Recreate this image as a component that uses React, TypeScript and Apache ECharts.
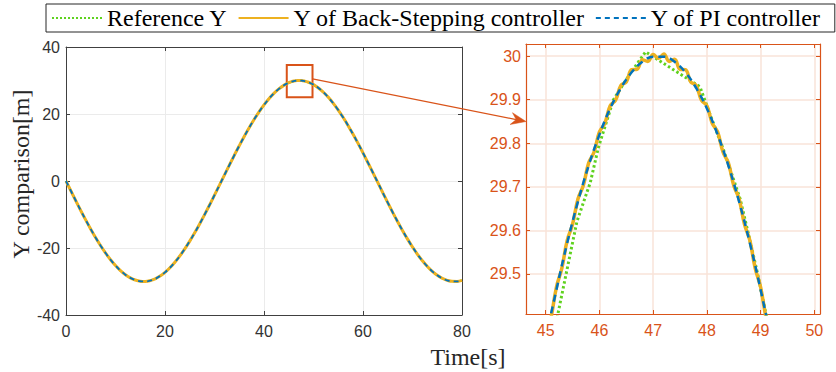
import React, { useEffect, useRef } from "react";
import * as echarts from "echarts";

// ---- Overview trajectory (whole run, 1 s samples) ----
const overviewTime = [
  0, 1, 2, 3, 4, 5, 6, 7, 8, 9, 10, 11, 12, 13, 14, 15, 16, 17, 18, 19, 20,
  21, 22, 23, 24, 25, 26, 27, 28, 29, 30, 31, 32, 33, 34, 35, 36, 37, 38, 39, 40,
  41, 42, 43, 44, 45, 46, 47, 48, 49, 50, 51, 52, 53, 54, 55, 56, 57, 58, 59, 60,
  61, 62, 63, 64, 65, 66, 67, 68, 69, 70, 71, 72, 73, 74, 75, 76, 77, 78, 79, 80,
];
const overviewY = [
  0, -2.99, -5.96, -8.87, -11.68, -14.38, -16.94, -19.33, -21.52, -23.5, -25.24,
  -26.74, -27.96, -28.91, -29.56, -29.92, -29.99, -29.75, -29.22, -28.39, -27.28,
  -25.9, -24.26, -22.37, -20.26, -17.95, -15.47, -12.82, -10.05, -7.18, -4.23,
  -1.25, 1.75, 4.73, 7.67, 10.52, 13.28, 15.9, 18.36, 20.63, 22.7,
  24.55, 26.15, 27.49, 28.55, 29.33, 29.81, 30.0, 29.88, 29.47, 28.77,
  27.77, 26.5, 24.97, 23.18, 21.17, 18.94, 16.52, 13.94, 11.22, 8.38,
  5.46, 2.49, -0.5, -3.5, -6.45, -9.35, -12.15, -14.82, -17.35, -19.71,
  -21.87, -23.81, -25.51, -26.96, -28.14, -29.04, -29.65, -29.96, -29.97, -29.68,
];

// ---- Detail around the peak (zoomed panel) ----
const refZoomTime = [45.18, 45.58, 45.83, 45.98, 46.26, 46.57, 46.86, 47.87, 48.06, 48.31, 48.62, 48.8, 48.96, 49.13];
const refZoomY = [29.38, 29.62, 29.71, 29.79, 29.9, 29.96, 30.01, 29.93, 29.866, 29.785, 29.672, 29.578, 29.492, 29.39];

const bsZoomTime = [
  45.0, 45.1, 45.2, 45.3, 45.4, 45.5, 45.6, 45.7, 45.8, 45.9, 46.0, 46.1, 46.2, 46.3, 46.4,
  46.5, 46.6, 46.7, 46.8, 46.9, 47.0, 47.1, 47.2, 47.3, 47.4, 47.5, 47.6, 47.7, 47.8, 47.9,
  48.0, 48.1, 48.2, 48.3, 48.4, 48.5, 48.6, 48.7, 48.8, 48.9, 49.0, 49.1, 49.2,
];
const bsZoomY = [
  29.351, 29.4, 29.47, 29.513, 29.577, 29.614, 29.672, 29.703, 29.755, 29.78, 29.826, 29.846,
  29.886, 29.899, 29.933, 29.941, 29.969, 29.97, 29.992, 29.988, 30.004, 29.995, 30.005,
  29.988, 29.993, 29.97, 29.969, 29.941, 29.933, 29.899, 29.886, 29.846, 29.826, 29.78,
  29.755, 29.703, 29.672, 29.614, 29.577, 29.513, 29.47, 29.4, 29.35,
];

const piZoomTime = [
  45.0, 45.2, 45.4, 45.6, 45.8, 46.0, 46.2, 46.4, 46.6, 46.8, 47.0, 47.2, 47.4, 47.6, 47.8,
  48.0, 48.2, 48.4, 48.6, 48.8, 49.0, 49.2,
];
const piZoomY = [
  29.345, 29.464, 29.571, 29.666, 29.749, 29.82, 29.88, 29.927, 29.963, 29.987, 29.999,
  29.999, 29.987, 29.963, 29.927, 29.88, 29.82, 29.749, 29.666, 29.571, 29.464, 29.344,
];

// zoom window drawn on the overview, and the zoomed panel's ticks
const zoomBoxTime = [44.6, 49.8];
const zoomBoxY = [25.0, 34.6];
const zoomXTicks = [45, 46, 47, 48, 49, 50];
const zoomYTicks = [29.5, 29.6, 29.7, 29.8, 29.9, 30.0];

const seriesNames = ["Reference Y", "Y of Back-Stepping controller", "Y of PI controller"];

function merge(zt: number[], zy: number[]): number[][] {
  const lo = zt[0];
  const hi = zt[zt.length - 1];
  const pts: number[][] = [];
  overviewTime.forEach((t, i) => {
    if (t < lo) pts.push([t, overviewY[i]]);
  });
  zt.forEach((t, i) => pts.push([t, zy[i]]));
  overviewTime.forEach((t, i) => {
    if (t > hi) pts.push([t, overviewY[i]]);
  });
  return pts;
}

const GREEN = "#5fd21e";
const YELLOW = "#EDB120";
const BLUE = "#0072BD";
const ORANGE = "#D95319";
const AX = "#404040";
const SANS = "Liberation Sans";
const SERIF = "Liberation Serif";
const CLEAR = "rgba(0,0,0,0)";

export default function App() {
  const ref = useRef<HTMLDivElement>(null);
  useEffect(() => {
    if (!ref.current) return;
    const chart = echarts.init(ref.current, undefined, { renderer: "svg" });
    const refData = merge(refZoomTime, refZoomY);
    const bsData = merge(bsZoomTime, bsZoomY);
    const piData = merge(piZoomTime, piZoomY);

    const leftX = { min: 0, max: 80, interval: 20 };
    const leftY = { min: -40, max: 40, interval: 20 };
    const rightX = { min: 44.633, max: 50.106 };
    const rightY = { min: 29.408, max: 30.028 };

    const fmt = (v: number) => String(Number(v.toFixed(1)));

    chart.setOption({
      animation: false,
      backgroundColor: "#ffffff",
      legend: {
        top: 4,
        left: 46,
        right: 0,
        itemWidth: 50,
        itemHeight: 14,
        itemGap: 10,
        padding: [2, 14, 2, 5],
        borderColor: "#262626",
        borderWidth: 1,
        backgroundColor: "#ffffff",
        itemStyle: { color: CLEAR, borderColor: CLEAR, borderWidth: 0, opacity: 0 },
        textStyle: { fontFamily: SERIF, fontSize: 24, color: "#000" },
        data: seriesNames,
      },
      grid: [
        { left: 66, top: 47, width: 396, height: 268, containLabel: false },
        { left: 526, top: 44, width: 294, height: 270, containLabel: false },
      ],
      xAxis: [
        {
          type: "value", gridIndex: 0, ...leftX,
          axisLine: { onZero: false, lineStyle: { color: AX, width: 1 } },
          axisTick: { inside: true, length: 4, lineStyle: { color: AX } },
          axisLabel: { color: "#333", fontFamily: SANS, fontSize: 16, margin: 8 },
          splitLine: { show: true, lineStyle: { color: "#ebebeb", width: 1 } },
        },
        {
          type: "value", gridIndex: 0, position: "top", ...leftX,
          axisLine: { onZero: false, lineStyle: { color: AX, width: 1 } },
          axisTick: { inside: true, length: 4, lineStyle: { color: AX } },
          axisLabel: { show: false },
          splitLine: { show: false },
        },
        {
          type: "value", gridIndex: 1, ...rightX,
          axisLine: { onZero: false, lineStyle: { color: ORANGE, width: 1.2 } },
          axisTick: { inside: true, length: 4, customValues: zoomXTicks, lineStyle: { color: ORANGE } },
          axisLabel: { customValues: zoomXTicks, color: ORANGE, fontFamily: SANS, fontSize: 16, margin: 8 },
          splitLine: { show: true, lineStyle: { color: "#f9e3d9", width: 1.5 } },
        },
        {
          type: "value", gridIndex: 1, position: "top", ...rightX,
          axisLine: { onZero: false, lineStyle: { color: ORANGE, width: 1.2 } },
          axisTick: { inside: true, length: 4, customValues: zoomXTicks, lineStyle: { color: ORANGE } },
          axisLabel: { show: false, customValues: zoomXTicks },
          splitLine: { show: false },
        },
      ],
      yAxis: [
        {
          type: "value", gridIndex: 0, ...leftY,
          name: "Y comparison[m]",
          nameLocation: "middle",
          nameGap: 32,
          nameTextStyle: { fontFamily: SERIF, fontSize: 24, color: "#262626", padding: [0, 0, 0, 14] },
          axisLine: { show: true, onZero: false, lineStyle: { color: AX, width: 1 } },
          axisTick: { show: true, inside: true, length: 4, lineStyle: { color: AX } },
          axisLabel: { color: "#333", fontFamily: SANS, fontSize: 16, margin: 6 },
          splitLine: { show: true, lineStyle: { color: "#ebebeb", width: 1 } },
        },
        {
          type: "value", gridIndex: 0, position: "right", ...leftY,
          axisLine: { show: true, onZero: false, lineStyle: { color: AX, width: 1 } },
          axisTick: { show: true, inside: true, length: 4, lineStyle: { color: AX } },
          axisLabel: { show: false },
          splitLine: { show: false },
        },
        {
          type: "value", gridIndex: 1, ...rightY,
          axisLine: { show: true, onZero: false, lineStyle: { color: ORANGE, width: 1.2 } },
          axisTick: { show: true, inside: true, length: 4, customValues: zoomYTicks, lineStyle: { color: ORANGE } },
          axisLabel: { customValues: zoomYTicks, formatter: fmt, color: ORANGE, fontFamily: SANS, fontSize: 16, margin: 5 },
          splitLine: { show: true, lineStyle: { color: "#f9e3d9", width: 1.5 } },
        },
        {
          type: "value", gridIndex: 1, position: "right", ...rightY,
          axisLine: { show: true, onZero: false, lineStyle: { color: ORANGE, width: 1.2 } },
          axisTick: { show: true, inside: true, length: 4, customValues: zoomYTicks, lineStyle: { color: ORANGE } },
          axisLabel: { show: false, customValues: zoomYTicks },
          splitLine: { show: false },
        },
      ],
      series: [
        {
          name: seriesNames[0], type: "line", xAxisIndex: 0, yAxisIndex: 0, data: refData,
          symbol: "none", lineStyle: { color: GREEN, width: 2, type: [2, 2] }, itemStyle: { color: GREEN }, z: 2,
        },
        {
          name: seriesNames[1], type: "line", xAxisIndex: 0, yAxisIndex: 0, data: bsData,
          symbol: "none", smooth: 0.4, lineStyle: { color: YELLOW, width: 3 }, itemStyle: { color: YELLOW }, z: 3,
          markArea: {
            silent: true,
            itemStyle: { color: CLEAR, borderColor: ORANGE, borderWidth: 2 },
            data: [[{ coord: [zoomBoxTime[0], zoomBoxY[1]] }, { coord: [zoomBoxTime[1], zoomBoxY[0]] }]],
          },
        },
        {
          name: seriesNames[2], type: "line", xAxisIndex: 0, yAxisIndex: 0, data: piData,
          symbol: "none", smooth: 0.4, lineStyle: { color: BLUE, width: 1.8, type: [5, 4] }, itemStyle: { color: BLUE }, z: 4,
        },
        {
          name: seriesNames[0], type: "line", xAxisIndex: 2, yAxisIndex: 2, data: refData,
          symbol: "none", lineStyle: { color: GREEN, width: 3, type: [2.5, 2.5] }, itemStyle: { color: GREEN }, z: 2,
        },
        {
          name: seriesNames[1], type: "line", xAxisIndex: 2, yAxisIndex: 2, data: bsData,
          symbol: "none", smooth: 0.4, lineStyle: { color: YELLOW, width: 3.5 }, itemStyle: { color: YELLOW }, z: 3,
        },
        {
          name: seriesNames[2], type: "line", xAxisIndex: 2, yAxisIndex: 2, data: piData,
          symbol: "none", smooth: 0.4, lineStyle: { color: BLUE, width: 2.5, type: [7, 5] }, itemStyle: { color: BLUE }, z: 4,
        },
      ],
    });

    // arrow from the zoom window to the zoomed panel
    const s = chart.convertToPixel({ gridIndex: 0 }, [zoomBoxTime[1], 30.5]) as number[];
    const e = chart.convertToPixel({ gridIndex: 1 }, [rightX.min, 29.85]) as number[];
    const dx = e[0] - s[0];
    const dy = e[1] - s[1];
    const len = Math.sqrt(dx * dx + dy * dy);
    const ux = dx / len;
    const uy = dy / len;
    const nx = -uy;
    const ny = ux;
    const headLen = 15;
    const headHalf = 6;
    const notch = 10;
    const back = [e[0] - ux * headLen, e[1] - uy * headLen];
    const notchPt = [e[0] - ux * notch, e[1] - uy * notch];

    chart.setOption({
      graphic: [
        {
          type: "line",
          shape: { x1: s[0], y1: s[1], x2: notchPt[0], y2: notchPt[1] },
          style: { stroke: ORANGE, lineWidth: 1.2 },
          z: 100,
        },
        {
          type: "polygon",
          shape: {
            points: [
              [e[0], e[1]],
              [back[0] + nx * headHalf, back[1] + ny * headHalf],
              [notchPt[0], notchPt[1]],
              [back[0] - nx * headHalf, back[1] - ny * headHalf],
            ],
          },
          style: { fill: ORANGE, stroke: ORANGE, lineWidth: 0.5 },
          z: 100,
        },
        {
          type: "text",
          x: 468,
          y: 357,
          style: {
            text: "Time[s]",
            fontFamily: SERIF,
            fontSize: 24,
            fill: "#262626",
            align: "center",
            verticalAlign: "middle",
          },
          z: 100,
        },
      ],
    });

    return () => chart.dispose();
  }, []);

  return (
    <div
      ref={ref}
      style={{ position: "fixed", left: 0, top: 0, width: 836, height: 372, background: "#fff" }}
    />
  );
}
